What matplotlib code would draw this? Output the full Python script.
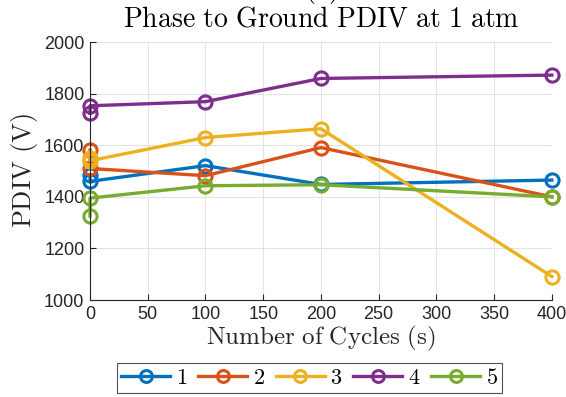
import matplotlib
matplotlib.use("Agg")
import matplotlib.pyplot as plt

# Cycle counts (two readings at 0 cycles)
cycles = [0, 0, 100, 200, 400]

pdiv_1 = [1484, 1460, 1521, 1448, 1465]
pdiv_2 = [1581, 1510, 1482, 1591, 1400]
pdiv_3 = [1550, 1540, 1630, 1664, 1091]
pdiv_4 = [1724, 1753, 1769, 1859, 1872]
pdiv_5 = [1325, 1395, 1443, 1447, 1400]

series_names = ["1", "2", "3", "4", "5"]
x_ticks = [0, 50, 100, 150, 200, 250, 300, 350, 400]
y_ticks = [1000, 1200, 1400, 1600, 1800, 2000]

# MATLAB default line colours
colours = ["#0072BD", "#D95319", "#EDB120", "#7E2F8E", "#77AC30"]

plt.rcParams["font.family"] = "Liberation Sans"
plt.rcParams["mathtext.fontset"] = "cm"

fig = plt.figure(figsize=(5.66, 3.97), dpi=100)
ax = fig.add_axes([0.159, 0.2443, 0.816, 0.6497])

for vals, c, name in zip([pdiv_1, pdiv_2, pdiv_3, pdiv_4, pdiv_5], colours, series_names):
    ax.plot(cycles, vals, color=c, lw=2.4, marker="o", markersize=9.5,
            markerfacecolor="none", markeredgewidth=2.2, label=r"$\mathrm{%s}$" % name,
            clip_on=False)

ax.set_xlim(0, 400)
ax.set_ylim(1000, 2000)
ax.set_xticks(x_ticks)
ax.set_yticks(y_ticks)
ax.grid(True, color="#e3e3e3", lw=0.8)
ax.set_axisbelow(True)

ax.spines["top"].set_visible(False)
ax.spines["right"].set_visible(False)
ax.spines["left"].set_color("#262626")
ax.spines["bottom"].set_color("#262626")
ax.tick_params(direction="in", length=4, color="#262626", labelcolor="#262626",
               labelsize=13, pad=4)

ax.set_xlabel(r"$\mathrm{Number\ of\ Cycles\ (s)}$", fontsize=18, labelpad=1, color="#262626")
ax.set_ylabel(r"$\mathrm{PDIV\ (V)}$", fontsize=19, labelpad=3, color="#262626")
ax.set_title(r"$\mathrm{(a)}$" + "\n" + r"$\mathrm{Phase\ to\ Ground\ PDIV\ at\ 1\ atm}$",
             fontsize=20, pad=11, linespacing=1.05)

leg = fig.legend(loc="lower center", bbox_to_anchor=(0.547, 0.01), ncol=5,
                 fontsize=16, frameon=True, fancybox=False, handlelength=2.2,
                 columnspacing=0.5, handletextpad=0.25, borderpad=0.2,
                 borderaxespad=0, markerscale=0.9)
leg.get_frame().set_edgecolor("#262626")
leg.get_frame().set_linewidth(0.8)

fig.savefig("out.png", dpi=100)
